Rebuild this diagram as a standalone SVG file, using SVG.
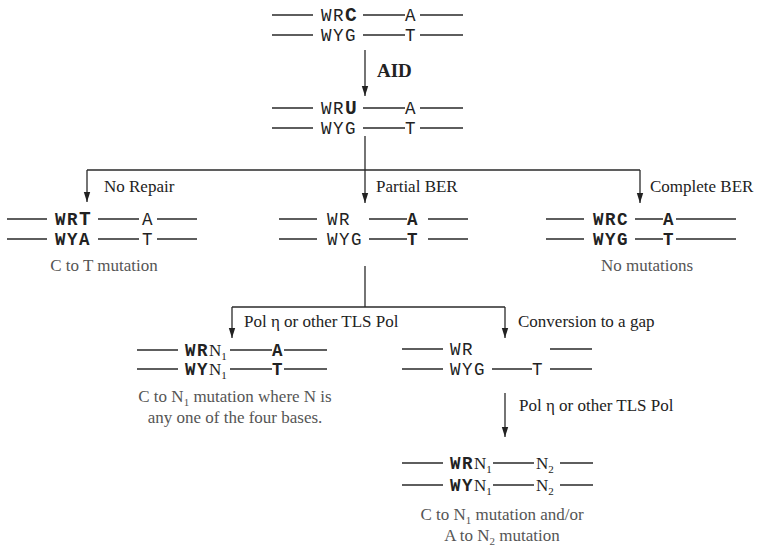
<svg xmlns="http://www.w3.org/2000/svg" width="762" height="553" viewBox="0 0 762 553">
<defs>
<marker id="ah" viewBox="0 0 10 10" refX="10" refY="5" markerWidth="10" markerHeight="10" markerUnits="userSpaceOnUse" orient="auto">
<path d="M0,1.8 L10,5 L0,8.2 z" fill="#222"/>
</marker>
<style>
.s{stroke:#2a2a2a;stroke-width:1.4;fill:none}
.c{stroke:#2a2a2a;stroke-width:1.3;fill:none}
.m{font-family:"Liberation Mono","Courier New",monospace;font-size:17.5px;letter-spacing:1.5px;fill:#222}
.mb{font-family:"Liberation Mono","Courier New",monospace;font-size:17.5px;letter-spacing:1.5px;font-weight:bold;fill:#222}
.big{font-weight:bold;font-size:19.5px}
.n{font-family:"Liberation Serif","Times New Roman",serif;font-size:17px;font-weight:normal;letter-spacing:0}
.lab{font-family:"Liberation Serif","Times New Roman",serif;font-size:17px;fill:#222}
.cap{font-family:"Liberation Serif","Times New Roman",serif;font-size:17px;fill:#555;text-anchor:middle}
.sub{font-size:11px}
</style>
</defs>

<g id="connectors">
<line class="c" x1="365" y1="50" x2="365" y2="96" marker-end="url(#ah)"/>
<line class="c" x1="87" y1="170" x2="640" y2="170"/>
<line class="c" x1="87" y1="170" x2="87" y2="202" marker-end="url(#ah)"/>
<line class="c" x1="640" y1="170" x2="640" y2="203" marker-end="url(#ah)"/>
<line class="c" x1="365" y1="136" x2="365" y2="203" marker-end="url(#ah)"/>
<line class="c" x1="365" y1="266" x2="365" y2="307"/>
<line class="c" x1="232" y1="307" x2="505" y2="307"/>
<line class="c" x1="232" y1="307" x2="232" y2="338" marker-end="url(#ah)"/>
<line class="c" x1="505" y1="307" x2="505" y2="338" marker-end="url(#ah)"/>
<line class="c" x1="505" y1="393" x2="505" y2="437" marker-end="url(#ah)"/>
<text class="lab" x="377" y="77" style="font-weight:bold;font-size:19px">AID</text>
<text class="lab" x="104" y="192">No Repair</text>
<text class="lab" x="376" y="192">Partial BER</text>
<text class="lab" x="650" y="192">Complete BER</text>
<text class="lab" x="244" y="327">Pol η or other TLS Pol</text>
<text class="lab" x="518" y="327">Conversion to a gap</text>
<text class="lab" x="519" y="411">Pol η or other TLS Pol</text>
</g>

<g id="start">
<path class="s" d="M272,15H313M363,15H405M420,15H463M272,35H313M363,35H405M420,35H463"/>
<text class="m" x="321" y="21">WR<tspan class="big">C</tspan></text>
<text class="m" x="405" y="21">A</text>
<text class="m" x="321" y="41">WYG</text>
<text class="m" x="405" y="41">T</text>
</g>

<g id="uracil">
<path class="s" d="M272,108H313M363,108H405M420,108H463M272,128H313M363,128H405M420,128H463"/>
<text class="m" x="321" y="114">WR<tspan class="big">U</tspan></text>
<text class="m" x="405" y="114">A</text>
<text class="m" x="321" y="134">WYG</text>
<text class="m" x="405" y="134">T</text>
</g>

<g id="no-repair">
<path class="s" d="M7,219H47M98,219H139M157,219H197M7,239H47M98,239H139M157,239H197"/>
<text class="mb" x="55" y="225">WR<tspan style="font-size:19.5px">T</tspan></text>
<text class="m" x="142" y="225">A</text>
<text class="mb" x="55" y="245">WYA</text>
<text class="m" x="142" y="245">T</text>
<text class="cap" x="104" y="271">C to T mutation</text>
</g>

<g id="partial-ber">
<path class="s" d="M279,219H317M369,219H407M428,219H468M279,239H317M369,239H407M428,239H468"/>
<text class="m" x="327" y="225">WR</text>
<text class="mb" x="407" y="225">A</text>
<text class="m" x="327" y="245">WYG</text>
<text class="mb" x="407" y="245">T</text>
</g>

<g id="complete-ber">
<path class="s" d="M546,219H584M635,219H663M676,219H736M546,239H584M635,239H663M676,239H736"/>
<text class="mb" x="593" y="225">WRC</text>
<text class="mb" x="663" y="225">A</text>
<text class="mb" x="593" y="245">WYG</text>
<text class="mb" x="663" y="245">T</text>
<text class="cap" x="647" y="271">No mutations</text>
</g>

<g id="tls">
<path class="s" d="M137,350H178M230,350H272M284,350H327M137,369H178M230,369H272M284,369H327"/>
<text class="mb" x="185" y="356">WR<tspan class="n">N</tspan><tspan class="n sub" baseline-shift="-4">1</tspan></text>
<text class="mb" x="272" y="356">A</text>
<text class="mb" x="185" y="375">WY<tspan class="n">N</tspan><tspan class="n sub" baseline-shift="-4">1</tspan></text>
<text class="mb" x="272" y="375">T</text>
<text class="cap" x="235" y="402">C to N<tspan class="sub" baseline-shift="-4">1</tspan> mutation where N is</text>
<text class="cap" x="235" y="423">any one of the four bases.</text>
</g>

<g id="gap">
<path class="s" d="M402,349H443M550,349H592M402,369H443M492,369H532M550,369H592"/>
<text class="m" x="450" y="355">WR</text>
<text class="m" x="450" y="375">WYG</text>
<text class="m" x="532" y="375">T</text>
</g>

<g id="gap-filled">
<path class="s" d="M402,463H443M493,463H534M560,463H593M402,485H443M493,485H534M560,485H593"/>
<text class="mb" x="450" y="469">WR<tspan class="n">N</tspan><tspan class="n sub" baseline-shift="-4">1</tspan></text>
<text class="n" x="536" y="469" style="fill:#222">N<tspan class="sub" baseline-shift="-4">2</tspan></text>
<text class="mb" x="450" y="491">WY<tspan class="n">N</tspan><tspan class="n sub" baseline-shift="-4">1</tspan></text>
<text class="n" x="536" y="491" style="fill:#222">N<tspan class="sub" baseline-shift="-4">2</tspan></text>
<text class="cap" x="502" y="520">C to N<tspan class="sub" baseline-shift="-4">1</tspan> mutation and/or</text>
<text class="cap" x="502" y="541">A to N<tspan class="sub" baseline-shift="-4">2</tspan> mutation</text>
</g>
</svg>
